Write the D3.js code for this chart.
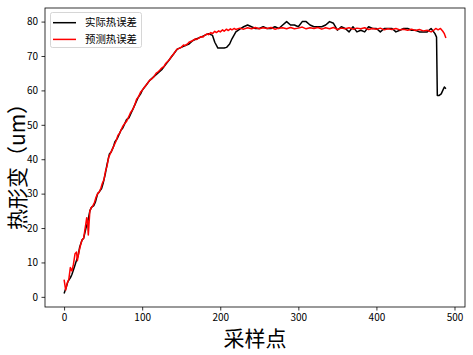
<!DOCTYPE html>
<html><head><meta charset="utf-8">
<script src="https://cdn.jsdelivr.net/npm/d3@7"></script>
<style>
html,body{margin:0;padding:0;background:#fff;}
svg{display:block;}
</style></head>
<body>
<svg id="c" width="473" height="355"></svg>
<script>
// ---- data ----
const seriesNames = ["实际热误差", "预测热误差"];
const xTicks = [0, 100, 200, 300, 400, 500];
const yTicks = [0, 10, 20, 30, 40, 50, 60, 70, 80];

const actualX = [0,3,5,8,10,13,15,18,20,23,25,28,30,33,35,38,40,43,45,48,50,53,55,58,60,63,65,68,70,73,75,78,80,83,85,88,90,93,95,98,100,105,110,115,120,125,130,135,140,145,150,155,160,165,170,175,180,185,190,193,197,200,205,208,212,215,220,225,230,235,240,245,250,255,260,265,270,275,280,285,290,295,300,305,310,315,320,325,330,335,340,345,350,355,360,365,370,375,380,385,390,395,400,405,410,415,420,425,430,435,440,445,450,455,460,465,470,475,477,478,480,483,485,487,489];
const actualY = [1.0,3,4.5,5.5,6.5,8.5,10,12,14.5,16.5,17,20,21.5,25,26,26.5,27.5,30,30.5,31.5,33,36,38.5,41.5,42,43.5,45,46,47,48.5,49,50.5,51.5,52,53,54.5,55.5,57,58,59,60,61.5,63,64,65,66,67.5,69,70.5,72,72.5,73,73.5,74.5,75,75.5,76,76.5,76,74,72.3,72.3,72.3,72.5,73.5,75,77,77.8,78.5,79,78.5,78,78,78.5,78,78,78.5,78,79,80,79,79,78.5,80,80,79,78.5,78.5,78.5,79,80,79.5,77.5,78.5,78,77,78.5,77,77.5,77,78.5,78,78,77,78,78,78,77,77.5,78,78,77.5,77.5,77,77,77,78,76.5,75.5,58.5,58.5,59,60,61,60.5];

const predX = [0,2,4,6,8,10,12,14,16,17,19,21,23,25,27,29,30,31,33,35,37,39,41,43,45,47,49,51,53,55,57,59,61,63,65,67,69,71,73,75,78,80,83,85,88,90,93,95,98,100,103,105,108,110,113,115,118,120,123,125,128,130,133,135,138,140,143,145,148,150,153,155,158,160,163,165,168,170,173,175,178,180,183,185,188,190,193,195,198,200,203,205,208,210,213,215,218,220,225,230,235,240,245,250,255,260,265,270,275,280,285,290,295,300,305,310,315,320,325,330,335,340,345,350,355,360,365,370,375,380,385,390,395,400,405,410,415,420,425,430,435,440,445,450,455,460,465,470,473,476,479,482,485,487,489];
const predY = [5,2,4,5,8.5,7.5,9.5,12.5,13,10.5,13,15,16.5,17,20,23,22,18,25,26,26.5,27.5,29,30,30.5,31.5,33,34,36.5,38,40.5,41.5,42.5,43.5,44.5,45.5,47,47.5,48.5,49.5,50.5,51,52.5,53.5,54.5,55.5,57.5,58,59.5,60,61,61.5,62.5,63,63.5,64,65,65.3,66,66.5,67,67.8,68.5,69,70,70.5,71.5,72,72.3,72.5,73.2,73,73.5,74,74.3,74.5,75,74.8,75.3,75.6,75.5,76,76.4,76.2,76.8,76.5,77.2,76.8,77.3,77,77.6,77.2,77.8,77.4,77.9,77.6,78,77.7,78.1,77.8,78.2,77.9,78.3,77.9,78.2,78.0,78.3,77.8,78.1,78.2,77.9,78.3,77.9,78.1,78.4,77.9,78.2,78.0,78.3,77.8,78.2,77.9,78.3,77.7,78.1,77.9,78.2,77.8,78.1,77.9,78.2,77.7,78.0,77.8,78.1,77.6,77.9,77.7,78.0,77.6,77.8,77.5,77.8,77.4,77.7,77.3,77.5,77.0,77.4,78.0,77.6,78.0,77.2,76.5,75.2];

// ---- layout ----
const W = 473, H = 355;
const m = {left: 45, right: 465, top: 8, bottom: 307};
const svg = d3.select("#c");
const FONT = "'Noto Sans CJK SC', 'Liberation Sans', sans-serif";

const x = d3.scaleLinear().domain([-24.45, 513.45]).range([m.left, m.right]);
const y = d3.scaleLinear().domain([-2.95, 83.95]).range([m.bottom, m.top]);

// clip
svg.append("defs").append("clipPath").attr("id","clip")
  .append("rect").attr("x", m.left).attr("y", m.top)
  .attr("width", m.right - m.left).attr("height", m.bottom - m.top);

const line = d3.line().x(d => x(d[0])).y(d => y(d[1]));
const actual = actualX.map((v,i) => [v, actualY[i]]);
const pred = predX.map((v,i) => [v, predY[i]]);

const g = svg.append("g").attr("clip-path","url(#clip)");
g.append("path").datum(actual).attr("d", line)
  .attr("fill","none").attr("stroke","#000").attr("stroke-width",1.5).attr("stroke-linejoin","round");
g.append("path").datum(pred).attr("d", line)
  .attr("fill","none").attr("stroke","#ff0000").attr("stroke-width",1.5).attr("stroke-linejoin","round");

// axes
const xAxis = d3.axisBottom(x).tickValues(xTicks).tickSize(3.5).tickPadding(3.5);
const yAxis = d3.axisLeft(y).tickValues(yTicks).tickSize(3.5).tickPadding(3.5);
const gx = svg.append("g").attr("transform", `translate(0,${m.bottom})`).call(xAxis);
const gy = svg.append("g").attr("transform", `translate(${m.left},0)`).call(yAxis);
[gx, gy].forEach(a => {
  a.select(".domain").remove();
  a.selectAll("text").attr("font-family", FONT).attr("font-size", 10).attr("fill","#000");
  a.selectAll("line").attr("stroke","#000").attr("stroke-width",0.8);
});

// frame
svg.append("rect").attr("x", m.left).attr("y", m.top)
  .attr("width", m.right - m.left).attr("height", m.bottom - m.top)
  .attr("fill","none").attr("stroke","#000").attr("stroke-width",0.8);

// axis labels
svg.append("text").attr("x", (m.left + m.right) / 2).attr("y", 346)
  .attr("text-anchor","middle").attr("font-family", FONT).attr("font-size", 21)
  .attr("fill","#000").text("采样点");
svg.append("text").attr("transform", `translate(25,${(m.top + m.bottom) / 2 + 4}) rotate(-90)`)
  .attr("text-anchor","middle").attr("font-family", FONT).attr("font-size", 21)
  .attr("fill","#000").text("热形变（um）");

// legend
const lg = svg.append("g");
lg.append("rect").attr("x", 50.5).attr("y", 12.5).attr("width", 91).attr("height", 35)
  .attr("rx", 2).attr("fill","#fff").attr("fill-opacity",0.8)
  .attr("stroke","#cccccc").attr("stroke-width",0.8);
const colors = ["#000", "#ff0000"];
seriesNames.forEach((n, i) => {
  const yy = 22.7 + i * 16.7;
  lg.append("line").attr("x1", 53).attr("x2", 76).attr("y1", yy).attr("y2", yy)
    .attr("stroke", colors[i]).attr("stroke-width", 1.5);
  lg.append("text").attr("x", 85).attr("y", yy + 3.7)
    .attr("font-family", FONT).attr("font-size", 10.4).attr("fill","#000").text(n);
});
</script>
</body></html>
